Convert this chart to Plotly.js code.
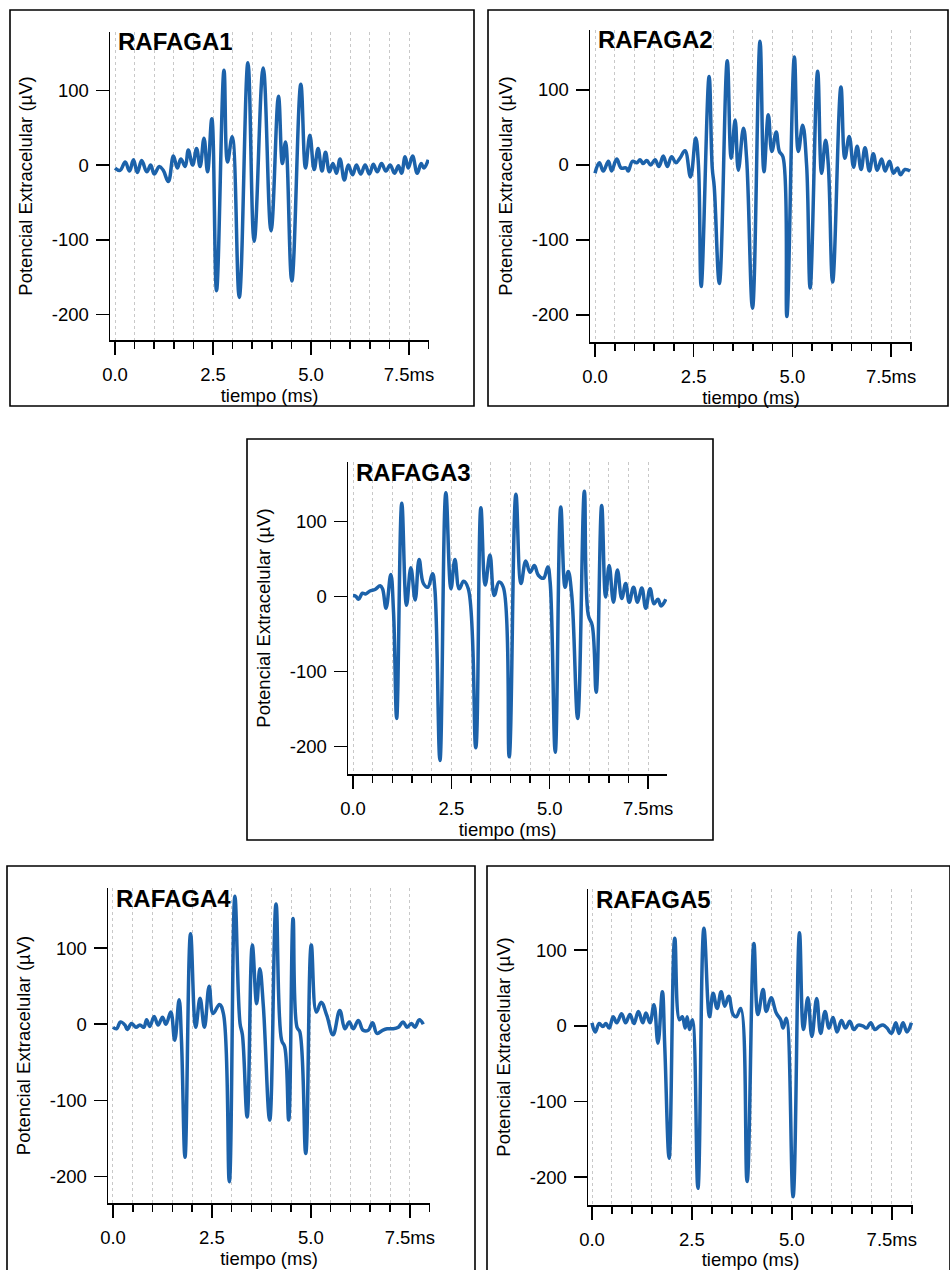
<!DOCTYPE html>
<html>
<head>
<meta charset="utf-8">
<script src="https://cdn.plot.ly/plotly-3.0.1.min.js"></script>
<style>
  html, body { margin: 0; padding: 0; background: #fff; }
  #chart { width: 950px; height: 1270px; }
</style>
</head>
<body>
<div id="chart"></div>
<script>
// Five extracellular recordings of bursts (ráfagas): time in ms, potential in µV.
const rafaga1_t = [0.00,0.13,0.26,0.37,0.47,0.57,0.68,0.81,0.91,1.00,1.13,1.23,1.36,1.49,1.59,1.68,1.79,1.87,1.98,2.08,2.17,2.27,2.36,2.47,2.59,2.78,2.87,2.99,3.17,3.39,3.55,3.78,3.98,4.17,4.27,4.35,4.51,4.74,4.86,4.97,5.08,5.18,5.28,5.37,5.47,5.56,5.65,5.74,5.85,5.95,6.06,6.16,6.27,6.38,6.49,6.59,6.69,6.80,6.91,7.02,7.13,7.23,7.31,7.40,7.48,7.59,7.71,7.81,7.88,7.99];
const rafaga1_v = [-4,-7,4,-8,7,-10,6,-9,0,-12,-2,-7,-22,12,-4,8,-2,20,0,22,-2,36,-9,62,-168,127,4,38,-177,137,-102,130,-88,92,2,31,-155,108,-4,40,-6,22,-8,17,-9,2,-11,8,-20,0,-13,0,-12,0,-12,1,-9,2,-8,0,-11,-1,-11,11,-4,12,-11,2,-4,7];

const rafaga2_t = [0.00,0.11,0.21,0.34,0.42,0.55,0.66,0.79,0.84,0.95,1.06,1.14,1.22,1.31,1.41,1.52,1.62,1.73,1.83,1.94,2.05,2.15,2.28,2.42,2.55,2.62,2.69,2.89,2.97,3.02,3.15,3.35,3.45,3.55,3.63,3.76,3.84,3.99,4.18,4.28,4.39,4.48,4.59,4.67,4.76,4.86,5.05,5.15,5.26,5.36,5.45,5.64,5.74,5.84,5.91,6.02,6.23,6.33,6.44,6.55,6.64,6.74,6.84,6.95,7.05,7.15,7.26,7.35,7.46,7.56,7.66,7.74,7.85,7.98];
const rafaga2_v = [-11,3,-8,5,-8,8,-4,-4,-8,5,3,7,2,6,0,7,-2,12,-2,11,3,9,19,-16,36,0,-162,118,-4,-29,-158,139,9,60,-7,49,9,-191,165,-9,67,18,44,18,11,-202,144,18,53,0,-164,125,-11,33,0,-156,104,9,38,-3,25,-6,23,-8,15,-7,8,-8,5,-11,-4,-13,-6,-8];

const rafaga3_t = [0.00,0.07,0.14,0.24,0.32,0.43,0.56,0.69,0.75,0.84,0.96,1.03,1.11,1.24,1.36,1.47,1.58,1.68,1.79,1.90,2.02,2.08,2.21,2.36,2.49,2.59,2.70,2.81,2.93,3.12,3.25,3.36,3.48,3.59,3.71,3.82,3.97,4.14,4.27,4.39,4.50,4.61,4.71,4.84,4.95,5.01,5.14,5.28,5.39,5.47,5.56,5.71,5.88,5.98,6.08,6.18,6.32,6.42,6.51,6.62,6.72,6.83,6.93,7.02,7.13,7.23,7.34,7.44,7.55,7.65,7.75,7.83,7.95];
const rafaga3_v = [1,0,-4,4,3,7,9,14,10,-16,29,-21,-163,124,-12,38,-5,49,17,12,30,10,-219,138,10,49,10,20,10,-202,118,15,55,1,19,12,-214,136,17,47,32,41,28,24,39,19,-208,119,12,33,1,-163,140,-25,-39,-128,121,-1,41,-8,35,-3,17,-8,12,-8,11,-16,10,-10,-4,-13,-4];

const rafaga4_t = [0.00,0.09,0.19,0.30,0.36,0.47,0.58,0.68,0.78,0.85,0.93,1.04,1.14,1.25,1.34,1.46,1.56,1.67,1.73,1.82,1.96,2.09,2.20,2.31,2.43,2.53,2.69,2.79,2.94,3.08,3.21,3.27,3.39,3.52,3.63,3.71,3.80,3.96,4.12,4.26,4.34,4.44,4.55,4.65,4.72,4.87,5.01,5.14,5.26,5.40,5.56,5.73,5.86,5.97,6.07,6.20,6.32,6.45,6.56,6.67,6.81,6.93,7.06,7.21,7.33,7.43,7.54,7.63,7.74,7.84];
const rafaga4_v = [-4,-6,3,-1,-7,1,-4,-1,-4,6,-3,10,-1,9,0,16,-21,32,-21,-175,119,-4,34,-4,50,14,26,14,-207,168,1,-14,-122,104,27,73,23,-126,158,-21,-30,-126,139,-4,-10,-170,104,16,29,12,-14,18,-6,3,-6,5,-8,-8,2,-12,-8,-6,-6,-4,3,-4,1,-4,6,0];

const rafaga5_t = [0.00,0.08,0.18,0.27,0.35,0.43,0.53,0.62,0.74,0.84,0.95,1.05,1.16,1.27,1.35,1.45,1.55,1.65,1.76,1.82,1.93,2.07,2.19,2.26,2.33,2.38,2.44,2.51,2.65,2.80,2.94,3.03,3.13,3.23,3.32,3.42,3.53,3.61,3.72,3.88,4.05,4.15,4.28,4.36,4.48,4.61,4.72,4.78,4.86,5.03,5.19,5.29,5.40,5.50,5.62,5.72,5.83,5.93,6.03,6.13,6.24,6.34,6.45,6.55,6.66,6.77,6.87,6.97,7.08,7.18,7.28,7.38,7.49,7.60,7.68,7.78,7.88,7.99];
const rafaga5_v = [4,-8,3,-1,3,-3,12,4,16,4,15,3,19,4,17,4,28,-23,45,-27,-175,116,8,12,-3,12,-5,8,-215,129,12,43,23,45,26,39,15,12,23,-206,109,15,48,19,37,17,8,-3,10,-226,123,-5,37,-14,36,-10,19,-3,11,-8,7,-3,6,-5,1,0,-3,4,-5,-1,1,-3,-10,4,-10,4,-8,4];

const panelNames = ['RAFAGA1', 'RAFAGA2', 'RAFAGA3', 'RAFAGA4', 'RAFAGA5'];
const timeTickVals = [0, 2.5, 5, 7.5];
const timeTickText = ['0.0', '2.5', '5.0', '7.5ms'];
const potentialTickVals = [-200, -100, 0, 100];
const potentialTickText = ['-200', '-100', '0', '100'];
const gridTimes = [0.5, 1, 1.5, 2, 3, 3.5, 4, 4.5, 5.5, 6, 6.5, 7, 8];

const series = [
  [rafaga1_t, rafaga1_v],
  [rafaga2_t, rafaga2_v],
  [rafaga3_t, rafaga3_v],
  [rafaga4_t, rafaga4_v],
  [rafaga5_t, rafaga5_v]
];

// Page geometry (pixels): plot box [left, right, top, bottom], axis ranges, outer frame.
const W = 950, H = 1270;
const panels = [
  { plot: [110, 429, 32, 340],  xr: [-0.128, 8.01], yr: [-234, 178], frame: [10, 10, 474, 406] },
  { plot: [590, 912, 30, 342],  xr: [-0.127, 8.03], yr: [-236, 180], frame: [488, 10, 948, 406] },
  { plot: [348, 667, 462, 774], xr: [-0.127, 7.98], yr: [-237, 179], frame: [247, 439, 713, 840] },
  { plot: [108, 430, 888, 1203], xr: [-0.126, 8.01], yr: [-235, 179], frame: [7, 866, 475, 1275] },
  { plot: [588, 913, 889, 1205], xr: [-0.10, 8.03], yr: [-237, 181], frame: [487, 866, 950, 1275] }
];

const fx = px => px / W;
const fy = py => 1 - py / H;
const FONT = 'Liberation Sans, Arial, Helvetica, sans-serif';
const BLUE = '#1c62aa';
const GRID = '#c8c8c8';

const data = [];
const layout = {
  width: W, height: H,
  margin: { l: 0, r: 0, t: 0, b: 0 },
  paper_bgcolor: '#fff', plot_bgcolor: '#fff',
  showlegend: false,
  font: { family: FONT, color: '#000', size: 18 },
  shapes: [], annotations: []
};

panels.forEach((p, i) => {
  const n = i === 0 ? '' : String(i + 1);
  data.push({
    type: 'scatter', mode: 'lines',
    x: series[i][0], y: series[i][1],
    xaxis: 'x' + n, yaxis: 'y' + n,
    line: { color: BLUE, width: 3.5, shape: 'spline', smoothing: 1.15 },
    hoverinfo: 'x+y'
  });

  layout['xaxis' + n] = {
    domain: [fx(p.plot[0]), fx(p.plot[1])],
    range: p.xr,
    anchor: 'y' + n,
    showline: true, linecolor: '#000', linewidth: 1.5,
    ticks: 'outside', ticklen: 13, tickwidth: 1.5, tickcolor: '#000',
    tickmode: 'array', tickvals: timeTickVals, ticktext: timeTickText,
    ticklabelstandoff: 4,
    tickfont: { family: FONT, size: 18.5, color: '#000' },
    showgrid: true, gridcolor: GRID, gridwidth: 1, griddash: 'dot',
    minor: {
      tickmode: 'array', tickvals: gridTimes,
      ticks: 'outside', ticklen: 7, tickwidth: 1.5, tickcolor: '#000',
      showgrid: true, gridcolor: GRID, gridwidth: 1, griddash: 'dot'
    },
    zeroline: false,
    title: { text: 'tiempo (ms)', font: { family: FONT, size: 18.5, color: '#000' }, standoff: 5 },
    fixedrange: true
  };

  layout['yaxis' + n] = {
    domain: [fy(p.plot[3]), fy(p.plot[2])],
    range: p.yr,
    anchor: 'x' + n,
    showline: true, linecolor: '#000', linewidth: 1.5,
    ticks: 'outside', ticklen: 13, tickwidth: 1.5, tickcolor: '#000',
    tickmode: 'array', tickvals: potentialTickVals, ticktext: potentialTickText,
    ticklabelstandoff: 3,
    tickfont: { family: FONT, size: 18.5, color: '#000' },
    showgrid: false, zeroline: false,
    title: { text: 'Potencial Extracelular (µV)', font: { family: FONT, size: 18.5, color: '#000' }, standoff: 14 },
    fixedrange: true
  };

  // outer frame around each panel
  layout.shapes.push({
    type: 'rect', xref: 'paper', yref: 'paper',
    x0: fx(p.frame[0]), x1: fx(p.frame[2]),
    y0: fy(p.frame[3]), y1: fy(p.frame[1]),
    line: { color: '#000', width: 1.6 }, fillcolor: 'rgba(0,0,0,0)', layer: 'below'
  });

  // panel name in the top-left corner of the plot
  layout.annotations.push({
    xref: 'paper', yref: 'paper',
    x: fx(p.plot[0] + 6), y: fy(p.plot[2] + 10),
    xanchor: 'left', yanchor: 'middle',
    text: '<b>' + panelNames[i] + '</b>',
    showarrow: false,
    font: { family: FONT, size: 24, color: '#000' }
  });
});

Plotly.newPlot('chart', data, layout, { staticPlot: true, displayModeBar: false });
</script>
</body>
</html>
